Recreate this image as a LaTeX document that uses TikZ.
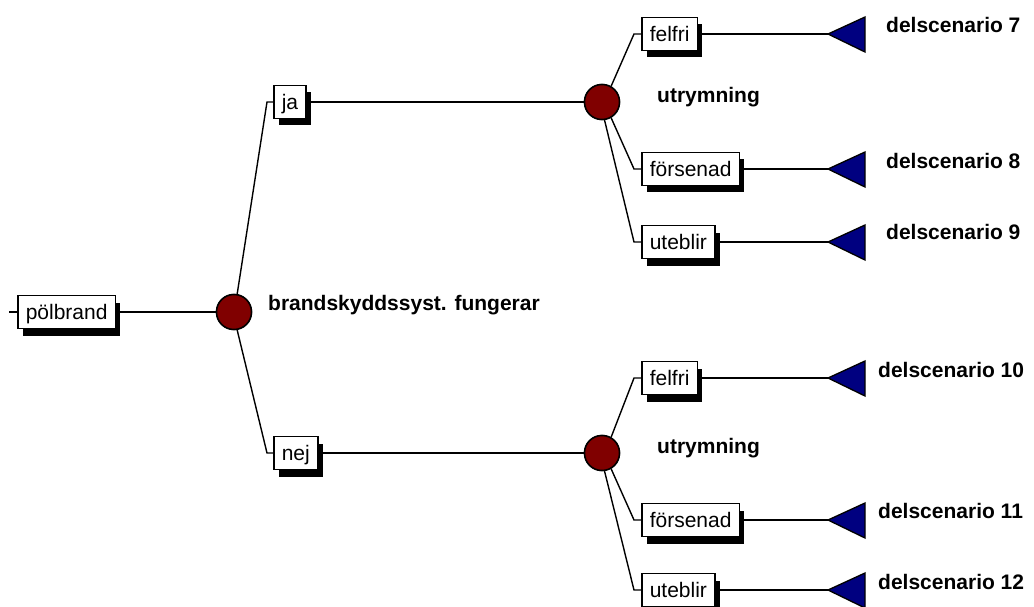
\documentclass[tikz,border=0pt]{standalone}
\usepackage{fontspec}
\setmainfont{Liberation Sans}
\usetikzlibrary{shadows}
\definecolor{chance}{RGB}{128,0,0}
\definecolor{endnode}{RGB}{0,0,128}
\begin{document}
\begin{tikzpicture}[x=1pt,y=-1pt,
  every node/.style={font=\fontsize{21}{24}\selectfont},
  branch/.style={draw=black, line width=1.5pt, fill=white, inner xsep=8pt, inner ysep=0pt,
    minimum height=33pt, text depth=0pt, text height=15pt,
    drop shadow={shadow xshift=5pt, shadow yshift=-7pt, fill=black, opacity=1}},
  chancenode/.style={circle, draw=black, line width=1.5pt, fill=chance, minimum size=35pt, inner sep=0pt},
  link/.style={draw=black, line width=1.4pt},
  tag/.style={font=\fontsize{21}{24}\selectfont\bfseries, anchor=base west, inner sep=0pt},
  endmark/.style={draw=black, line width=1.3pt, fill=endnode, line join=miter}
]
\useasboundingbox (0,0) rectangle (1034,607);

% chance nodes
\node[chancenode] (c1) at (234,312) {};
\node[chancenode] (c2) at (602,102) {};
\node[chancenode] (c3) at (602,453) {};

% branch boxes
\node[branch, anchor=west] (pb) at (17,312) {pölbrand};
\node[branch, anchor=west] (ja) at (273,102) {ja};
\node[branch, anchor=west] (nej) at (273,453) {nej};
\node[branch, anchor=west] (f1) at (641,34) {felfri};
\node[branch, anchor=west] (s1) at (641,169) {försenad};
\node[branch, anchor=west] (u1) at (641,242) {uteblir};
\node[branch, anchor=west] (f2) at (641,378) {felfri};
\node[branch, anchor=west] (s2) at (641,520) {försenad};
\node[branch, anchor=west] (u2) at (641,590) {uteblir};

% bends where branches turn into their boxes
\coordinate (pin) at (9,312);
\coordinate (kja) at (267,102);
\coordinate (knej) at (267,453);
\coordinate (kf1) at (634,34);
\coordinate (ks1) at (634,169);
\coordinate (ku1) at (634,242);
\coordinate (kf2) at (634,378);
\coordinate (ks2) at (634,520);
\coordinate (ku2) at (634,590);

% tips of the end markers
\coordinate (t7) at (828,34);
\coordinate (t8) at (828,169);
\coordinate (t9) at (828,242);
\coordinate (t10) at (828,378);
\coordinate (t11) at (828,520);
\coordinate (t12) at (828,590);

% connectors
\draw[link] (pin) -- (pb.west);
\draw[link] (pb.east) -- (c1.west);
\draw[link] (c1.80) -- (kja) -- (ja.west);
\draw[link] (c1.-80) -- (knej) -- (nej.west);
\draw[link] (ja.east) -- (c2.west);
\draw[link] (nej.east) -- (c3.west);
\draw[link] (c2.60) -- (kf1) -- (f1.west);
\draw[link] (c2.-60) -- (ks1) -- (s1.west);
\draw[link] (c2.-82) -- (ku1) -- (u1.west);
\draw[link] (c3.60) -- (kf2) -- (f2.west);
\draw[link] (c3.-60) -- (ks2) -- (s2.west);
\draw[link] (c3.-82) -- (ku2) -- (u2.west);
\draw[link] (f1.east) -- (t7);
\draw[link] (s1.east) -- (t8);
\draw[link] (u1.east) -- (t9);
\draw[link] (f2.east) -- (t10);
\draw[link] (s2.east) -- (t11);
\draw[link] (u2.east) -- (t12);

% redraw chance nodes over the connector ends
\node[chancenode] at (c1) {};
\node[chancenode] at (c2) {};
\node[chancenode] at (c3) {};

% end markers
\foreach \t in {t7,t8,t9,t10,t11,t12}
  \filldraw[endmark] (\t) -- ++(37,-17) -- ++(0,35) -- cycle;

% labels
\node[tag] (lc1) at (268,310) {brandskyddssyst. fungerar};
\node[tag] (lc2) at (657,103) {utrymning};
\node[tag] (lc3) at (657,453) {utrymning};
\node[tag] (l7) at (886,33) {delscenario 7};
\node[tag] (l8) at (886,168) {delscenario 8};
\node[tag] (l9) at (886,240) {delscenario 9};
\node[tag] (l10) at (878,377) {delscenario 10};
\node[tag] (l11) at (878,518) {delscenario 11};
\node[tag] (l12) at (878,589) {delscenario 12};
\end{tikzpicture}
\end{document}
